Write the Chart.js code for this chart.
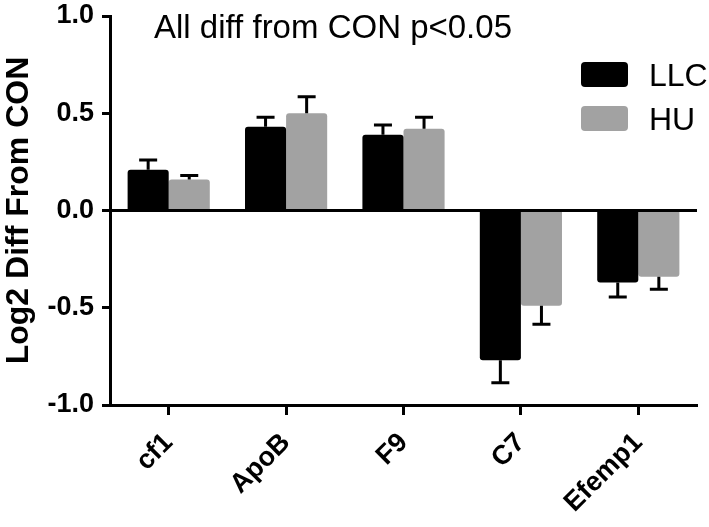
<!DOCTYPE html>
<html>
<head>
<meta charset="utf-8">
<script src="https://cdn.jsdelivr.net/npm/chart.js@4"></script>
<style>
    html, body { margin: 0; padding: 0; background: #fff; }
    #wrap { width: 709px; height: 527px; }
</style>
</head>
<body>
<div id="wrap"><canvas id="chart" width="709" height="527"></canvas></div>
<script>
// values
const categories = ["cf1", "ApoB", "F9", "C7", "Efemp1"];
const llcValues = [0.21, 0.43, 0.39, -0.77, -0.37];
const huValues = [0.16, 0.50, 0.42, -0.49, -0.34];
const llcErrors = [0.05, 0.05, 0.05, 0.115, 0.075];
const huErrors = [0.02, 0.085, 0.06, 0.095, 0.065];
const yTicks = [-1.0, -0.5, 0.0, 0.5, 1.0];
const chartTitle = "All diff from CON p<0.05";
const yTitle = "Log2 Diff From CON";

const FONT = "'Liberation Sans', Arial, Helvetica, sans-serif";

// error bars, one side only (away from zero)
const errorBars = {
    id: "errorBars",
    afterDatasetsDraw(chart) {
        const ctx = chart.ctx;
        const y = chart.scales.y;
        ctx.save();
        ctx.strokeStyle = "#000";
        ctx.lineWidth = 3;
        chart.data.datasets.forEach((ds, di) => {
            const meta = chart.getDatasetMeta(di);
            meta.data.forEach((bar, i) => {
                const v = ds.data[i];
                const e = ds.errors[i];
                const end = v >= 0 ? v + e : v - e;
                const y0 = y.getPixelForValue(v);
                const y1 = y.getPixelForValue(end);
                ctx.beginPath();
                ctx.moveTo(bar.x, y0);
                ctx.lineTo(bar.x, y1);
                ctx.moveTo(bar.x - 9, y1);
                ctx.lineTo(bar.x + 9, y1);
                ctx.stroke();
            });
        });
        ctx.restore();
    }
};

// title and legend sit inside the plot area
const overlay = {
    id: "overlay",
    afterDraw(chart) {
        const ctx = chart.ctx;
        ctx.save();
        ctx.fillStyle = "#000";
        ctx.font = "33px " + FONT;
        ctx.textAlign = "center";
        ctx.textBaseline = "alphabetic";
        ctx.fillText(chartTitle, 333, 38);

        ctx.textAlign = "left";
        ctx.font = "32px " + FONT;
        chart.data.datasets.forEach((ds, i) => {
            const top = 62 + i * 44;
            ctx.fillStyle = ds.backgroundColor;
            ctx.beginPath();
            ctx.roundRect(581, top, 47, 25, 4);
            ctx.fill();
            ctx.fillStyle = "#000";
            ctx.fillText(ds.label, 649, top + 24);
        });
        ctx.restore();
    }
};

new Chart(document.getElementById("chart"), {
    type: "bar",
    data: {
        labels: categories,
        datasets: [
            {
                label: "LLC",
                data: llcValues,
                errors: llcErrors,
                backgroundColor: "#000000",
                borderRadius: 3,
                categoryPercentage: 0.7,
                barPercentage: 1.0
            },
            {
                label: "HU",
                data: huValues,
                errors: huErrors,
                backgroundColor: "#a2a2a2",
                borderRadius: 3,
                categoryPercentage: 0.7,
                barPercentage: 1.0
            }
        ]
    },
    options: {
        responsive: false,
        animation: false,
        layout: { padding: { top: 16, right: 12, left: 0, bottom: 0 } },
        plugins: {
            legend: { display: false },
            tooltip: { enabled: false }
        },
        scales: {
            x: {
                grid: {
                    offset: false,
                    drawOnChartArea: false,
                    drawTicks: true,
                    tickLength: 10,
                    tickWidth: 3,
                    tickColor: "#000"
                },
                border: { color: "#000", width: 3 },
                ticks: {
                    color: "#000",
                    font: { family: FONT, size: 27, weight: "bold" },
                    minRotation: 45,
                    maxRotation: 45,
                    padding: 12
                },
                afterFit(scale) {
                    scale.height = 122;
                    scale.paddingLeft = 0;
                    scale.paddingRight = 0;
                }
            },
            y: {
                min: -1,
                max: 1,
                afterBuildTicks(scale) {
                    scale.ticks = yTicks.map(v => ({ value: v }));
                },
                grid: {
                    color: c => (c.tick && c.tick.value === 0 ? "#000" : "rgba(0,0,0,0)"),
                    lineWidth: 3,
                    drawTicks: true,
                    tickLength: 8,
                    tickWidth: 3,
                    tickColor: "#000"
                },
                border: { color: "#000", width: 3 },
                ticks: {
                    color: "#000",
                    font: { family: FONT, size: 27, weight: "bold" },
                    padding: 8,
                    callback: v => v.toFixed(1)
                },
                title: {
                    display: true,
                    text: yTitle,
                    color: "#000",
                    font: { family: FONT, size: 32, weight: "bold" },
                    padding: { top: 0, bottom: 2 }
                },
                afterFit(scale) {
                    scale.width = 110;
                    scale.paddingTop = 0;
                    scale.paddingBottom = 0;
                }
            }
        }
    },
    plugins: [errorBars, overlay]
});
</script>
</body>
</html>
